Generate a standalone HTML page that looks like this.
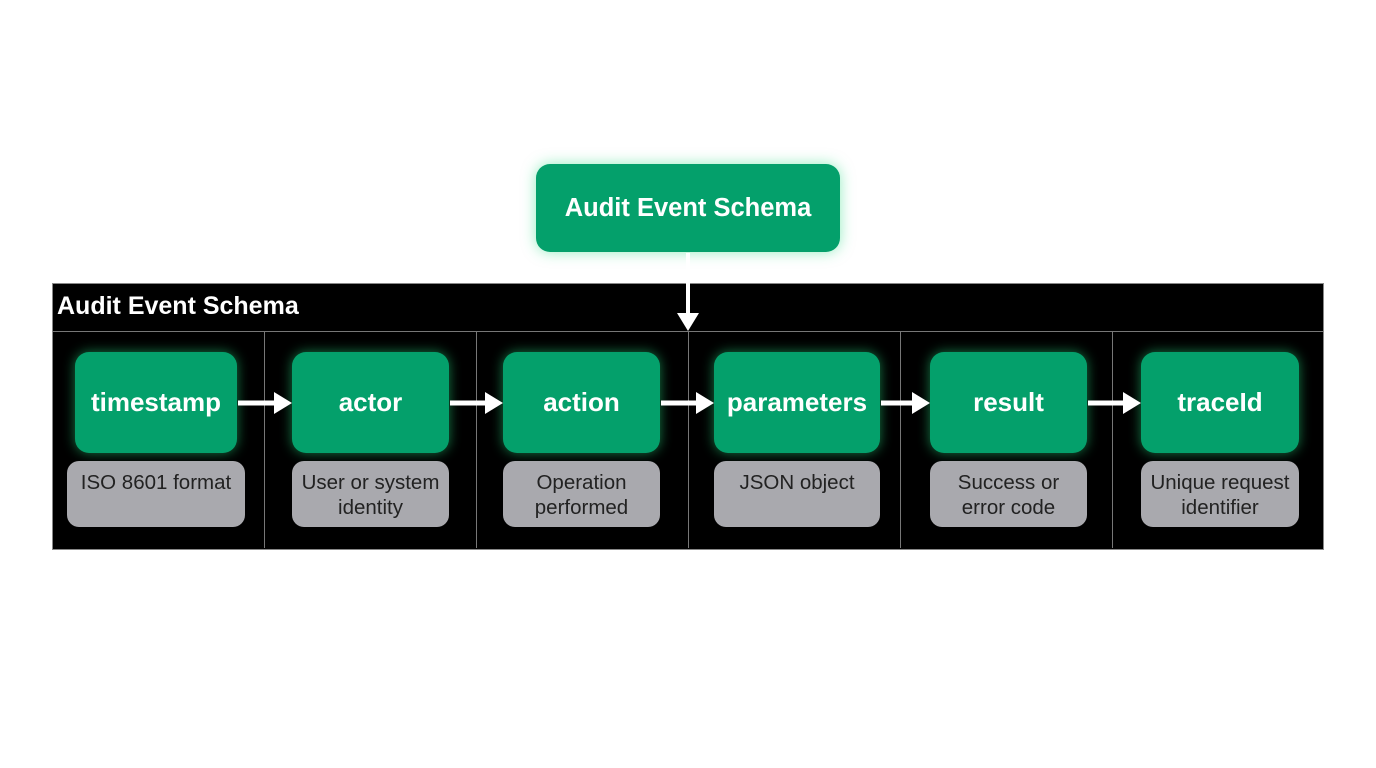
<!DOCTYPE html>
<html><head><style>
body{margin:0;width:1376px;height:768px;background:#fff;position:relative;overflow:hidden;font-family:"Liberation Sans",sans-serif}
.frame{position:absolute;left:52px;top:283px;width:1270px;height:265px;background:#000;border:1px solid #888}
.hdr{position:absolute;left:57px;top:292px;color:#fff;font-weight:bold;font-size:25px}
.hl{position:absolute;left:53px;top:331px;width:1270px;height:1px;background:#777}
.vl{position:absolute;top:332px;width:1px;height:216px;background:#777}
.g{position:absolute;top:352px;height:101px;background:#04a06b;border-radius:14px;color:#fff;font-weight:bold;font-size:26px;display:flex;align-items:center;justify-content:center;box-shadow:0 0 12px rgba(40,220,130,.55)}
.s{position:absolute;top:461px;height:66px;background:#a9a9ae;border-radius:12px;color:#222;font-size:20.5px;text-align:center;line-height:25px;padding-top:9px;box-sizing:border-box}
.top{position:absolute;left:536px;top:164px;width:304px;height:88px;background:#04a06b;border-radius:14px;color:#fff;font-weight:bold;font-size:25.5px;display:flex;align-items:center;justify-content:center;box-shadow:0 0 14px rgba(40,220,130,.5)}
</style></head><body>
<div class="top">Audit Event Schema</div>
<div class="frame"></div>
<div class="hdr">Audit Event Schema</div>
<div class="hl"></div>
<div class="vl" style="left:264px"></div><div class="vl" style="left:476px"></div><div class="vl" style="left:688px"></div><div class="vl" style="left:900px"></div><div class="vl" style="left:1112px"></div>
<div class="g" style="left:75px;width:162px">timestamp</div>
<div class="g" style="left:292px;width:157px">actor</div>
<div class="g" style="left:503px;width:157px">action</div>
<div class="g" style="left:714px;width:166px">parameters</div>
<div class="g" style="left:930px;width:157px">result</div>
<div class="g" style="left:1141px;width:158px">traceId</div>
<div class="s" style="left:67px;width:178px">ISO 8601 format</div>
<div class="s" style="left:292px;width:157px">User or system<br>identity</div>
<div class="s" style="left:503px;width:157px">Operation<br>performed</div>
<div class="s" style="left:714px;width:166px">JSON object</div>
<div class="s" style="left:930px;width:157px">Success or<br>error code</div>
<div class="s" style="left:1141px;width:158px">Unique request<br>identifier</div>
<svg width="1376" height="768" style="position:absolute;left:0;top:0">
<g fill="#fff" stroke="#fff">
<line x1="688" y1="253" x2="688" y2="316" stroke-width="4"/>
<polygon points="677,313 699,313 688,331" stroke="none"/>
<line x1="238" y1="403" x2="276" y2="403" stroke-width="5"/><polygon points="274,392 292,403 274,414" stroke="none"/>
<line x1="450" y1="403" x2="487" y2="403" stroke-width="5"/><polygon points="485,392 503,403 485,414" stroke="none"/>
<line x1="661" y1="403" x2="698" y2="403" stroke-width="5"/><polygon points="696,392 714,403 696,414" stroke="none"/>
<line x1="881" y1="403" x2="914" y2="403" stroke-width="5"/><polygon points="912,392 930,403 912,414" stroke="none"/>
<line x1="1088" y1="403" x2="1125" y2="403" stroke-width="5"/><polygon points="1123,392 1141,403 1123,414" stroke="none"/>
</g></svg>
</body></html>
